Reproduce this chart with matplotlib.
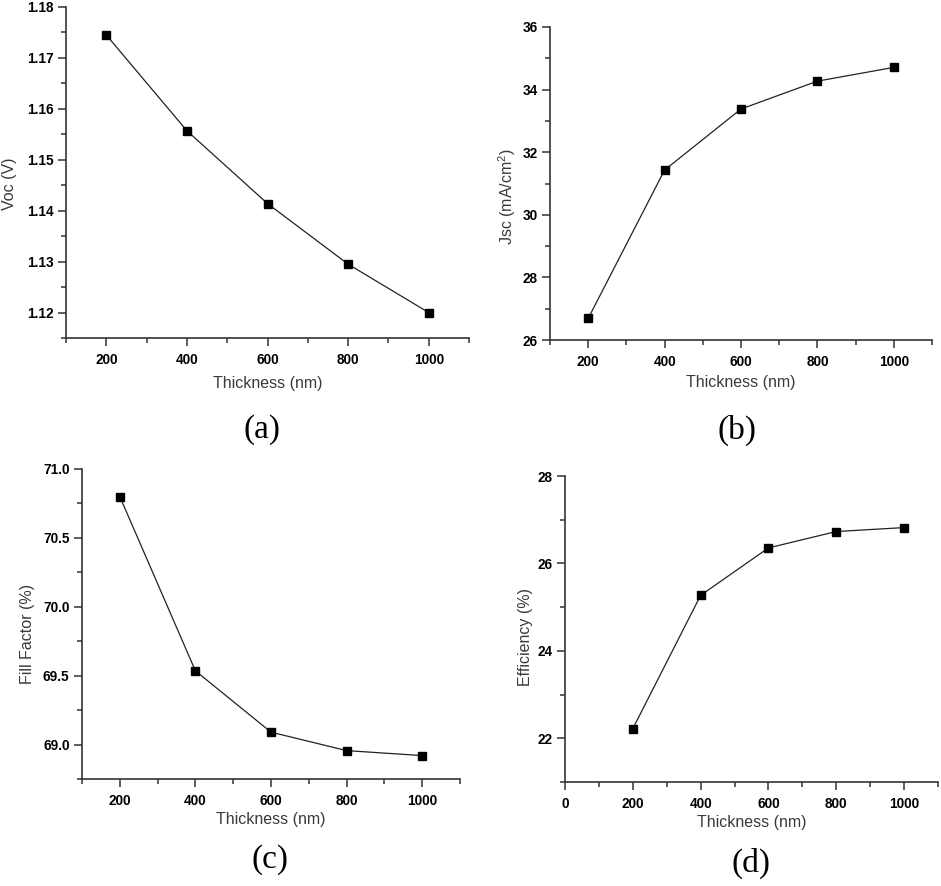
import matplotlib
matplotlib.use("Agg")
import matplotlib.pyplot as plt
from matplotlib.ticker import MultipleLocator, FormatStrFormatter

plt.rcParams["mathtext.fontset"] = "custom"
plt.rcParams["mathtext.rm"] = "Liberation Sans"
plt.rcParams["mathtext.it"] = "Liberation Sans"
plt.rcParams["mathtext.default"] = "regular"

thickness = [200, 400, 600, 800, 1000]
voc = [1.1745, 1.1557, 1.1414, 1.1295, 1.1200]
jsc = [26.69, 31.43, 33.38, 34.27, 34.71]
ff = [70.80, 69.535, 69.09, 68.956, 68.92]
eff = [22.22, 25.27, 26.355, 26.73, 26.82]

W, H = 941, 886
fig = plt.figure(figsize=(W / 100, H / 100), dpi=100)
fig.patch.set_facecolor("white")

def box(l, r, t, b):
    return [l / W, 1 - b / H, (r - l) / W, (b - t) / H]

panels = [
    dict(rect=box(66, 469, 7, 338), y=voc, ylabel="Voc (V)", xlim=(100, 1100), ylim=(1.115, 1.18),
         ymaj=0.01, ymin=0.005, yfmt="%.2f", xmaj=200, xstart=200, ylc=(-0.141, 0.465), xlc=-0.136,
         tag="(a)", tagpos=(262, 430)),
    dict(rect=box(550, 932, 27, 340), y=jsc, ylabel="Jsc (mA/cm$^{2}$)", xlim=(100, 1100), ylim=(26, 36),
         ymaj=2, ymin=1, yfmt="%d", xmaj=200, xstart=200, ylc=(-0.113, 0.457), xlc=-0.137,
         tag="(b)", tagpos=(737, 430)),
    dict(rect=box(82, 460, 469, 779), y=ff, ylabel="Fill Factor (%)", xlim=(100, 1100), ylim=(68.75, 71.0),
         ymaj=0.5, ymin=0.25, yfmt="%.1f", xmaj=200, xstart=200, ylc=(-0.143, 0.468), xlc=-0.132,
         tag="(c)", tagpos=(270, 860)),
    dict(rect=box(565, 938, 476, 782), y=eff, ylabel="Efficiency (%)", xlim=(0, 1100), ylim=(21, 28),
         ymaj=2, ymin=1, yfmt="%d", xmaj=200, xstart=0, ylc=(-0.107, 0.474), xlc=-0.131,
         tag="(d)", tagpos=(751, 863)),
]

spine_c = "#333333"
label_c = "#3a3a3a"

for p in panels:
    ax = fig.add_axes(p["rect"])
    ax.plot(thickness, p["y"], color="#222222", lw=0.9, marker="s", ms=5.5,
            mfc="black", mec="black", clip_on=False, zorder=3)
    ax.set_xlim(*p["xlim"])
    ax.set_ylim(*p["ylim"])
    for s in ["top", "right"]:
        ax.spines[s].set_visible(False)
    for s in ["left", "bottom"]:
        ax.spines[s].set_color(spine_c)
        ax.spines[s].set_linewidth(1.2)
    xt = list(range(p["xstart"], 1001, p["xmaj"]))
    ax.set_xticks(xt)
    ax.xaxis.set_minor_locator(MultipleLocator(100))
    ax.yaxis.set_major_locator(MultipleLocator(p["ymaj"]))
    ax.yaxis.set_minor_locator(MultipleLocator(p["ymin"]))
    ax.yaxis.set_major_formatter(FormatStrFormatter(p["yfmt"]))
    ax.set_ylim(*p["ylim"])
    ax.tick_params(which="major", direction="out", length=6, width=1.1, color=spine_c,
                   labelsize=9.8, pad=3)
    ax.tick_params(which="minor", direction="out", length=3.5, width=1.1, color=spine_c)
    ax.tick_params(axis="x", which="major", pad=5)
    for lab in ax.get_xticklabels() + ax.get_yticklabels():
        lab.set_fontweight("bold")
        lab.set_fontfamily("Liberation Sans")
    ax.set_xlabel("Thickness (nm)", fontsize=11.5, family="Liberation Sans", color=label_c)
    ax.set_ylabel(p["ylabel"], fontsize=11.5, family="Liberation Sans", color=label_c)
    ax.xaxis.set_label_coords(0.5, p["xlc"])
    ax.xaxis.label.set_verticalalignment("center")
    ax.yaxis.set_label_coords(*p["ylc"])
    ax.yaxis.label.set_verticalalignment("center")
    tx, ty = p["tagpos"]
    fig.text(tx / W, 1 - ty / H, p["tag"], ha="center", va="center",
             fontsize=24, family="Liberation Serif", color="black")

fig.savefig("out.png", dpi=100, facecolor="white")
